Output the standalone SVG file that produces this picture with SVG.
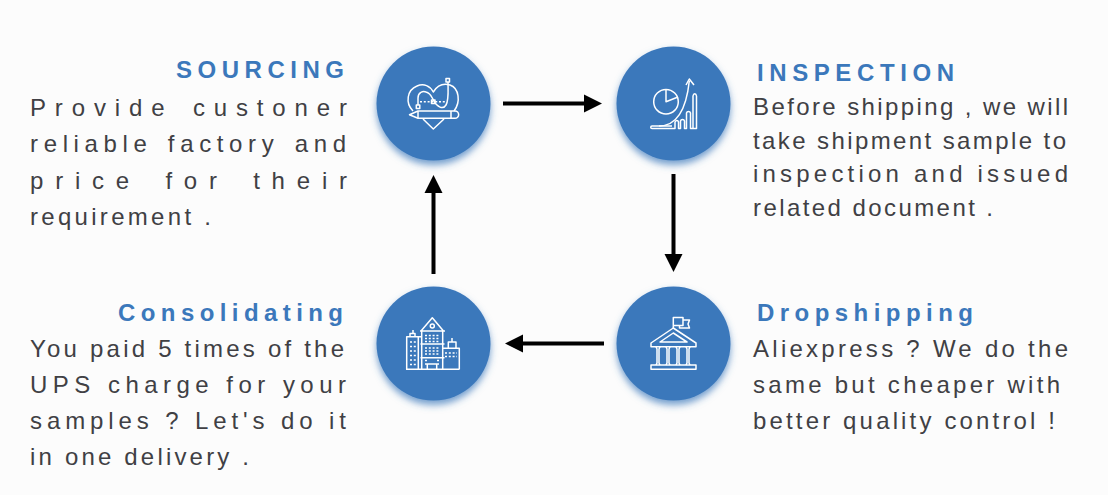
<svg xmlns="http://www.w3.org/2000/svg" width="1108" height="495" viewBox="0 0 1108 495">
<defs>
<filter id="sh" x="-20%" y="-20%" width="140%" height="140%"><feDropShadow dx="0" dy="4.500" stdDeviation="3.500" flood-color="#3b78bb" flood-opacity="0.7"/></filter>
<marker id="ah" markerUnits="userSpaceOnUse" markerWidth="20" markerHeight="20" refX="1" refY="10" orient="auto"><path d="M0 1L18 10L0 19Z" fill="#000"/></marker>
</defs>
<style>
.c{fill:#3b78bb;filter:url(#sh)}
.i{fill:none;stroke:#fff;stroke-width:1.5;stroke-linejoin:round}
.d{stroke-dasharray:2 1.800}
.h{font:bold 24px "Liberation Sans",Arial,sans-serif;fill:#3b78bb}
.t{font:24px "Liberation Sans",Arial,sans-serif;fill:#404044}
.l{stroke:#000;stroke-width:4;fill:none;marker-end:url(#ah)}
</style>
<rect width="1108" height="495" fill="#fcfcfc"/>
<g id="connectors">
<path class="l" d="M503 103.500H585"/>
<path class="l" d="M673.500 174V255"/>
<path class="l" d="M604 343.500H522"/>
<path class="l" d="M433.500 274V192"/>
</g>
<g id="sourcing">
<circle class="c" cx="433.500" cy="103.500" r="57"/>
<g class="i">
<path d="M413 111C405 103 407 90 417 86C424 83 430 86 433.300 92C437 86 443 83 450 85C459 88 461 102 454 111"/>
<path d="M423 119L433.300 129L444 119"/>
<path d="M418 105V98C418 92 423 91 426 92C431 93 432 98 434 101C437 107 443 110 446 105C449 100 448 90 448 82"/>
<path class="d" d="M420 101.700H446"/>
<rect x="416.300" y="105" width="3.500" height="3.500"/><rect x="446" y="78.500" width="3.500" height="3.500"/><rect x="431.500" y="100" width="3.500" height="3.500"/>
<path d="M418 111H455A3.500 3.500 0 0 1 455 118.300H418L409.500 114.700Z"/>
<path d="M418 111V118.300M451 111V118.300"/>
</g>
</g>
<g id="inspection">
<circle class="c" cx="673.500" cy="103.500" r="57"/>
<g class="i">
<circle cx="666" cy="101.700" r="12.300"/>
<path d="M666 89.400V101.700L678 97"/>
<path d="M659 126C675 126 686 112 689.300 81"/>
<path d="M686 85L689.300 79L694 85"/>
<path d="M672 126H652A1.200 1.200 0 0 0 652 128.500H675V122C676 120 678 120 678.500 122V128.500H680.500V121C681 119 684 119 684.500 121V128.500H686.500V113C687 111 690 111 690.500 113V128.500H693V96C693.500 93 696 93 696.500 96V128.500H693"/>
</g>
</g>
<g id="dropshipping">
<circle class="c" cx="673.500" cy="343.500" r="57"/>
<g class="i">
<path d="M673.300 328V317.500H683V325.500H673.300"/><path d="M683 320H689.500L688 324L689.500 328H679.500V325.500"/>
<path d="M673.300 328L651 343V346.700H696V343Z"/><path d="M660 342L673.300 333L687 342Z"/>
<path d="M651 365H696V369.300H651Z"/>
<path d="M656 346.700L657 349V363L656 365M660 346.700L659 349V363L660 365M666 346.700L667 349V363L666 365M670 346.700L669 349V363L670 365M676 346.700L677 349V363L676 365M680 346.700L679 349V363L680 365M686 346.700L687 349V363L686 365M690 346.700L689 349V363L690 365"/>
</g>
</g>
<g id="consolidating">
<circle class="c" cx="433.500" cy="343.500" r="57"/>
<g class="i">
<path d="M406 369.300H459.500"/>
<path d="M421 336.700H406.700V369.300M418.300 336.700V369.300M410 336.700V333.500H415V336.700M413 333.500V330"/>
<path d="M421.700 331V369.300M442.700 331V369.300"/>
<path d="M421 331L432.300 317.700L443.500 331M420 331H445"/><circle cx="432.300" cy="326" r="2"/>
<path d="M420.500 344H444.500M420.500 357.700H444.500"/>
<path d="M442.700 348.300H459.300V369.300M448.300 348.300V342H456V348.300M452 342V338"/>
<path d="M427.300 369.300V364H436.700V369.300M425 364H439"/>
<path class="d" d="M425 335.500H440M425 338.500H440M425 341.500H440M425 348H440M425 351H440M425 354H440M425 360.500H427M437 360.500H440M410 342H416M410 346.500H416M410 351H416M410 355.500H416M410 360H416M410 364.500H416M445 353H457M445 356.500H457"/>
</g>
</g>
<g id="t1">
<text class="h" x="176" y="78" textLength="168">SOURCING</text>
<text class="t" x="30" y="116" textLength="317" style="word-spacing:4px">Provide custoner</text>
<text class="t" x="30" y="152" textLength="316" style="word-spacing:3px">reliable factory and</text>
<text class="t" x="30" y="189" textLength="317" style="word-spacing:6px">price for their</text>
<text class="t" x="30" y="225" textLength="181">requirement .</text>
</g>
<g id="t2">
<text class="h" x="757" y="81" textLength="197">INSPECTION</text>
<text class="t" x="753" y="115" textLength="315">Before shipping , we will</text>
<text class="t" x="753" y="149" textLength="313">take shipment sample to</text>
<text class="t" x="753" y="182" textLength="315">inspection and issued</text>
<text class="t" x="753" y="216" textLength="240">related document .</text>
</g>
<g id="t3">
<text class="h" x="757" y="321" textLength="216">Dropshipping</text>
<text class="t" x="753" y="357" textLength="315">Aliexpress ? We do the</text>
<text class="t" x="753" y="393" textLength="307">same but cheaper with</text>
<text class="t" x="753" y="429" textLength="302">better quality control !</text>
</g>
<g id="t4">
<text class="h" x="118" y="321" textLength="225">Consolidating</text>
<text class="t" x="30" y="357" textLength="314">You paid 5 times of the</text>
<text class="t" x="30" y="393" textLength="316">UPS charge for your</text>
<text class="t" x="30" y="429" textLength="316">samples ? Let's do it</text>
<text class="t" x="30" y="465" textLength="219">in one delivery .</text>
</g>
</svg>
